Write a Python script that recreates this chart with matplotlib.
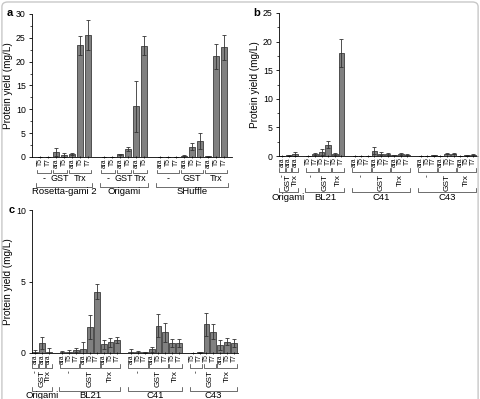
import matplotlib
matplotlib.use('Agg')
import matplotlib.pyplot as plt
from matplotlib.transforms import blended_transform_factory
from matplotlib.patches import FancyBboxPatch
from matplotlib.ticker import MultipleLocator

plt.rcParams['font.family'] = ['Liberation Sans', 'DejaVu Sans']

W, H = 481, 399

# ---- panel a data ----
a_strains = ['Rosetta-gami 2', 'Origami', 'SHuffle']
a_fusions = ['-', 'GST', 'Trx']
a_promoters = [
    [['T5', 'T7'], ['ara', 'T5'], ['ara', 'T5', 'T7']],
    [['ara', 'T5'], ['ara', 'T5'], ['ara', 'T5']],
    [['ara', 'T5', 'T7'], ['ara', 'T5', 'T7'], ['ara', 'T5', 'T7']],
]
a_yield = [
    [0, 0.05, 1.1, 0.5, 0.6, 23.4, 25.6],
    [0.05, 0, 0.6, 1.7, 10.6, 23.3],
    [0, 0, 0, 0.3, 2.2, 3.4, 0.2, 21.1, 23.0],
]
a_sd = [
    [0, 0, 0.8, 0.4, 0.2, 2.0, 3.2],
    [0, 0, 0.1, 0.5, 5.4, 2.0],
    [0, 0, 0, 0.15, 0.8, 1.7, 0.1, 2.7, 2.6],
]

# ---- panel b data ----
b_strains = ['Origami', 'BL21', 'C41', 'C43']
b_fusions = ['-', 'GST', 'Trx']
b_promoters = [
    [['ara'], ['ara'], ['ara']],
    [['T5', 'T7'], ['T5', 'T7'], ['T5', 'T7']],
    [['ara', 'T5', 'T7'], ['ara', 'T5', 'T7'], ['ara', 'T5', 'T7']],
    [['ara', 'T5', 'T7'], ['ara', 'T5', 'T7'], ['ara', 'T5', 'T7']],
]
b_yield = [
    [0, 0.15, 0.35],
    [0, 0.3, 0.7, 2.0, 0.3, 18.0],
    [0, 0, 0.05, 0.9, 0.4, 0.3, 0.15, 0.35, 0.2],
    [0, 0.02, 0.1, 0.05, 0.4, 0.4, 0.05, 0.15, 0.2],
]
b_sd = [
    [0, 0.1, 0.3],
    [0, 0.2, 0.6, 0.6, 0.15, 2.4],
    [0, 0, 0, 0.6, 0.3, 0.2, 0.05, 0.15, 0.1],
    [0, 0, 0.05, 0, 0.1, 0.1, 0, 0.1, 0.1],
]

# ---- panel c data ----
c_strains = ['Origami', 'BL21', 'C41', 'C43']
c_fusions = ['-', 'GST', 'Trx']
c_promoters = [
    [['ara'], ['ara'], ['ara']],
    [['ara', 'T5', 'T7'], ['ara', 'T5', 'T7'], ['ara', 'T5', 'T7']],
    [['ara', 'T5', 'T7'], ['ara', 'T5', 'T7'], ['T5', 'T7']],
    [['T5', 'T7'], ['T5', 'T7'], ['ara', 'T5', 'T7']],
]
c_yield = [
    [0.1, 0.7, 0.05],
    [0.05, 0.05, 0.2, 0.3, 1.8, 4.3, 0.6, 0.75, 0.9],
    [0.05, 0.05, 0.05, 0.25, 1.9, 1.45, 0.7, 0.7],
    [0.0, 0.05, 2.0, 1.5, 0.55, 0.8, 0.7],
]
c_sd = [
    [0.1, 0.4, 0.3],
    [0.1, 0.15, 0.15, 0.45, 0.85, 0.5, 0.3, 0.3, 0.2],
    [0.2, 0.1, 0.05, 0.15, 0.8, 0.65, 0.3, 0.3],
    [0.02, 0.05, 0.8, 0.55, 0.35, 0.25, 0.25],
]

BAR = '#808080'
EDGE = '#3c3c3c'


def fy(py):
    return 1 - py / H


def panel(fig, rect, xlim, ylim, ymajor, yminor, strains, fusions, promoters,
          yields, sds, lay, fus_rot):
    l, t, r, b = rect
    ax = fig.add_axes([l / W, 1 - b / H, (r - l) / W, (b - t) / H])
    tr = blended_transform_factory(ax.transData, fig.transFigure)
    pos = 0
    ticks = []
    for s, strain in enumerate(strains):
        k = 0
        first = pos
        for f, proms in enumerate(promoters[s]):
            gx = []
            for p in proms:
                x = pos
                ax.bar(x, yields[s][k], width=0.85, color=BAR, edgecolor=EDGE, lw=0.6)
                ax.errorbar(x, yields[s][k], yerr=sds[s][k], fmt='none',
                            ecolor='#333333', elinewidth=0.6, capsize=1.5, capthick=0.6)
                ax.text(x, fy(lay[0]), p, transform=tr, rotation=90, ha='center',
                        va='top', fontsize=4.8)
                gx.append(x)
                ticks.append(x)
                pos += 1
                k += 1
            x0, x1 = gx[0] - 0.42, gx[-1] + 0.42
            ax.plot([x0, x0, x1, x1], [fy(lay[1]), fy(lay[2]), fy(lay[2]), fy(lay[1])],
                    transform=tr, color='#333333', lw=0.5, clip_on=False)
            xm = (gx[0] + gx[-1]) / 2
            if fus_rot:
                ax.text(xm, fy(lay[3]), fusions[f], transform=tr, rotation=90,
                        ha='center', va='top', fontsize=6)
            else:
                ax.text(xm, fy(lay[3]), fusions[f], transform=tr,
                        ha='center', va='center', fontsize=6.5)
        x0, x1 = first - 0.45, pos - 1 + 0.45
        ax.plot([x0, x0, x1, x1], [fy(lay[4]), fy(lay[5]), fy(lay[5]), fy(lay[4])],
                transform=tr, color='#333333', lw=0.5, clip_on=False)
        ax.text((first + pos - 1) / 2, fy(lay[6]), strain, transform=tr,
                ha='center', va='center', fontsize=6.8)
        pos += 1
    ax.set_xlim(*xlim)
    ax.set_ylim(*ylim)
    ax.yaxis.set_major_locator(MultipleLocator(ymajor))
    if yminor:
        ax.yaxis.set_minor_locator(MultipleLocator(yminor))
    ax.set_xticks(ticks)
    ax.set_xticklabels([])
    ax.tick_params(axis='x', length=1.5, width=0.5, direction='inout')
    for sp in ['top', 'right']:
        ax.spines[sp].set_visible(False)
    ax.spines['left'].set_linewidth(0.6)
    ax.spines['bottom'].set_linewidth(0.6)
    ax.tick_params(axis='y', labelsize=6.3, width=0.6, length=2.5, pad=2)
    ax.tick_params(axis='y', which='minor', width=0.5, length=1.5)
    ax.set_ylabel('Protein yield (mg/L)', fontsize=7.2, labelpad=2)
    return ax


fig = plt.figure(figsize=(W / 100, H / 100), dpi=100)

fig.patches.append(FancyBboxPatch((0.004, -0.2), 0.99, 1.195,
                                  boxstyle='round,pad=0,rounding_size=0.012',
                                  transform=fig.transFigure, fill=False,
                                  edgecolor='#c8c8c8', lw=1.0))

panel(fig, (32, 14, 232, 157), (-1, 24), (0, 30), 5, 2.5,
      a_strains, a_fusions, a_promoters, a_yield, a_sd,
      (158.5, 169.5, 173, 178.5, 183, 186.5, 192), False)
panel(fig, (279, 13, 478, 156), (-0.45, 29.7), (0, 25), 5, 2.5,
      b_strains, b_fusions, b_promoters, b_yield, b_sd,
      (157.5, 168, 172, 174, 188.5, 192.5, 197.5), True)
panel(fig, (32, 210, 238, 353), (-0.44, 29.6), (0, 10), 5, None,
      c_strains, c_fusions, c_promoters, c_yield, c_sd,
      (354.5, 364, 368, 370, 387, 391, 395), True)

fig.text(7 / W, fy(13), 'a', fontsize=8, fontweight='bold', ha='left', va='center')
fig.text(253 / W, fy(13), 'b', fontsize=8, fontweight='bold', ha='left', va='center')
fig.text(9 / W, fy(210), 'c', fontsize=8, fontweight='bold', ha='left', va='center')

fig.savefig('out.png', dpi=100)
